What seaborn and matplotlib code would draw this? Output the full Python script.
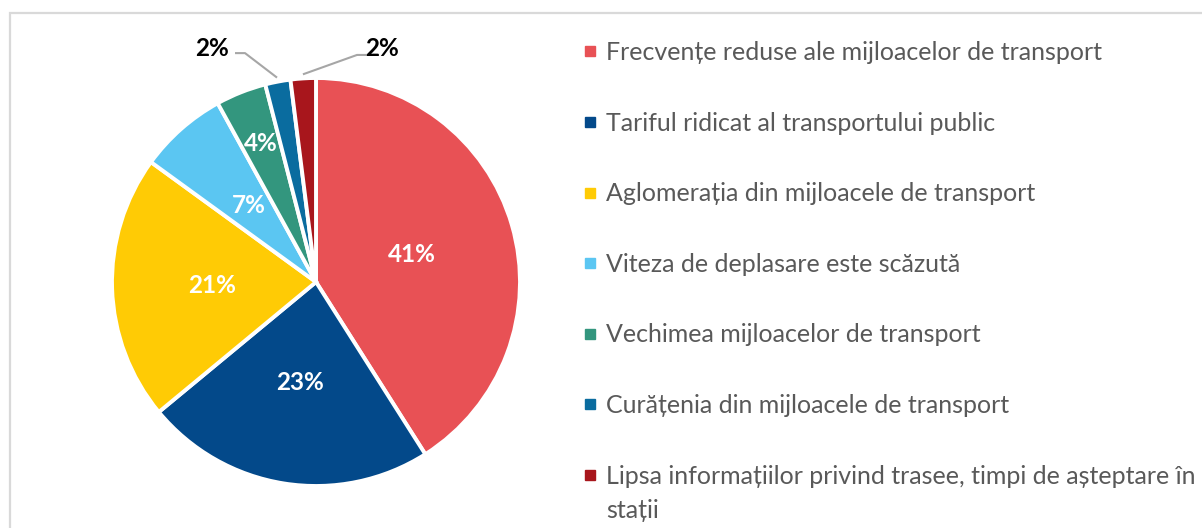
import matplotlib
matplotlib.use("Agg")
import matplotlib.pyplot as plt
from matplotlib.lines import Line2D
from matplotlib.patches import Rectangle
import numpy as np
import seaborn as sns

# Survey answers: main problems of public transport (share of responses, %)
categories = [
    "Frecvențe reduse ale mijloacelor de transport",
    "Tariful ridicat al transportului public",
    "Aglomerația din mijloacele de transport",
    "Viteza de deplasare este scăzută",
    "Vechimea mijloacelor de transport",
    "Curățenia din mijloacele de transport",
    "Lipsa informațiilor privind trasee, timpi de așteptare în",
]
last_label_tail = "stații"
shares = [41, 23, 21, 7, 4, 2, 2]
colors = ["#E85155", "#03498A", "#FFCB05", "#5BC6F2", "#33967E", "#0A6C9F", "#A8161C"]

sns.set_theme(style="white")
plt.rcParams["font.family"] = ["Lato", "DejaVu Sans"]

W, H = 1202, 528
fig = plt.figure(figsize=(W / 100, H / 100), dpi=100)

# thin grey frame around the chart area
fig.patches.append(Rectangle((10 / W, -0.05), 1.1, 1 - 13 / H + 0.05,
                             transform=fig.transFigure, fill=False,
                             edgecolor="#D9D9D9", linewidth=1.6))

cx, cy, r = 316, 282, 204
ax = fig.add_axes([(cx - r) / W, (H - cy - r) / H, 2 * r / W, 2 * r / H])
palette = sns.color_palette(colors)

wedges, _ = ax.pie(shares, colors=palette, startangle=90, counterclock=False,
                   radius=1.0,
                   wedgeprops=dict(edgecolor="white", linewidth=2.8))
ax.set_xlim(-1, 1)
ax.set_ylim(-1, 1)
ax.set_aspect("equal")
ax.axis("off")

# label radius per slice (inside labels); None -> outside with a leader line
inside_r = [0.49, 0.5, 0.51, 0.5, 0.73, None, None]
outside = {5: ((-0.51, 1.145), (-0.348, 1.122), (-0.397, 1.122)),
           6: ((0.324, 1.145), (0.201, 1.113), (0.255, 1.113))}

for i, (w, v) in enumerate(zip(wedges, shares)):
    mid = np.deg2rad((w.theta1 + w.theta2) / 2)
    txt = f"{v}%"
    if inside_r[i] is not None:
        rr = inside_r[i]
        ax.text(rr * np.cos(mid), rr * np.sin(mid), txt, ha="center", va="center",
                color="white", fontsize=17.5, fontweight="bold")
    else:
        (lx, ly), (ex, ey), (sx, sy) = outside[i]
        px, py = 1.02 * np.cos(mid), 1.02 * np.sin(mid)
        ax.plot([px, ex, sx], [py, ey, sy], color="#A6A6A6", lw=1.5,
                clip_on=False, solid_capstyle="butt")
        ax.text(lx, ly, txt, ha="center", va="center", color="black",
                fontsize=17.5, fontweight="bold", clip_on=False)

handles = [Line2D([], [], linestyle="none", marker="s", markersize=6.5,
                  markerfacecolor=c, markeredgecolor=c) for c in colors]
leg = fig.legend(handles, categories, loc="upper left",
                 bbox_to_anchor=(584 / W, 1 - 41 / H), frameon=False,
                 fontsize=18, labelcolor="#595959", handlelength=0.45,
                 handletextpad=0.45, labelspacing=1.905, borderaxespad=0,
                 borderpad=0)

# second line of the last legend entry, placed under its first line
fig.canvas.draw()
bb = leg.get_texts()[-1].get_window_extent()
fig.text(bb.x0 / W, (bb.y0 + bb.y1) / 2 / H - 34 / H, last_label_tail,
         ha="left", va="center", fontsize=18, color="#595959")

fig.savefig("out.png", dpi=100, facecolor="white")
